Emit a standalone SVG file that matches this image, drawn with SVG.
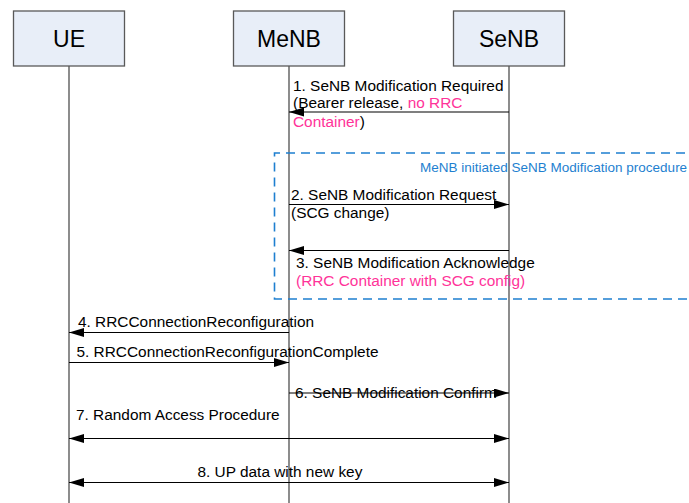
<svg xmlns="http://www.w3.org/2000/svg" width="689" height="503" viewBox="0 0 689 503">
<style>
.box{fill:#E8EEF8;stroke:#595959;stroke-width:1.3}
.life{stroke:#404040;stroke-width:1.2;fill:none}
.title{font-family:"Liberation Sans",Arial,sans-serif;font-size:23px;fill:#000;text-anchor:middle}
.lbl{font-family:"Liberation Sans",Arial,sans-serif;font-size:15.4px;fill:#000}
.pink{fill:#FF3399}
.msg{stroke:#000;stroke-width:1.1;fill:none;marker-end:url(#ah)}
.both{marker-start:url(#ah)}
.frame{fill:none;stroke:#1E7FD0;stroke-width:1.6;stroke-dasharray:9,6}
.flbl{font-family:"Liberation Sans",Arial,sans-serif;font-size:13.5px;fill:#1E7FD0}
</style>
<defs>
<marker id="ah" markerUnits="userSpaceOnUse" markerWidth="15" markerHeight="10" refX="15" refY="4.5" orient="auto-start-reverse">
<path d="M0,0 L15,4.5 L0,9 z" fill="#000"/>
</marker>
</defs>
<g id="node-UE">
<line class="life" x1="69" y1="66" x2="69" y2="503"/>
<rect class="box" x="13.5" y="11" width="111" height="55"/>
<text class="title" x="69" y="46.7">UE</text>
</g>
<g id="node-MeNB">
<line class="life" x1="289" y1="66" x2="289" y2="503"/>
<rect class="box" x="233.5" y="11" width="111" height="55"/>
<text class="title" x="289" y="46.7">MeNB</text>
</g>
<g id="node-SeNB">
<line class="life" x1="509" y1="66" x2="509" y2="503"/>
<rect class="box" x="453.5" y="11" width="111" height="55"/>
<text class="title" x="509" y="46.7">SeNB</text>
</g>
<g id="frame">
<path class="frame" d="M700,153 H274.5 V299 H700"/>
<text class="flbl" x="420" y="172">MeNB initiated SeNB Modification procedure</text>
</g>
<g id="connectors">
<line class="msg" x1="509" y1="112" x2="289" y2="112"/>
<line class="msg" x1="289" y1="204.5" x2="509" y2="204.5"/>
<line class="msg" x1="509" y1="250.5" x2="289" y2="250.5"/>
<line class="msg" x1="289" y1="332.5" x2="69" y2="332.5"/>
<line class="msg" x1="69" y1="362.5" x2="289" y2="362.5"/>
<line class="msg" x1="289" y1="393" x2="509" y2="393"/>
<line class="msg both" x1="69" y1="438.5" x2="509" y2="438.5"/>
<line class="msg both" x1="69" y1="482.5" x2="509" y2="482.5"/>
</g>
<g id="labels">
<text class="lbl" x="293" y="90.5">1. SeNB Modification Required</text>
<text class="lbl" x="293" y="108">(Bearer release, <tspan class="pink">no RRC</tspan></text>
<text class="lbl" x="293" y="126.5"><tspan class="pink">Container</tspan>)</text>
<text class="lbl" x="291" y="200">2. SeNB Modification Request</text>
<text class="lbl" x="291" y="218">(SCG change)</text>
<text class="lbl" x="296" y="267.5">3. SeNB Modification Acknowledge</text>
<text class="lbl pink" x="296" y="285.5">(RRC Container with SCG config)</text>
<text class="lbl" x="78" y="326.5">4. RRCConnectionReconfiguration</text>
<text class="lbl" x="76.5" y="356.5">5. RRCConnectionReconfigurationComplete</text>
<text class="lbl" x="295" y="398">6. SeNB Modification Confirm</text>
<text class="lbl" x="76" y="420">7. Random Access Procedure</text>
<text class="lbl" x="197.5" y="477">8. UP data with new key</text>
</g>
</svg>
